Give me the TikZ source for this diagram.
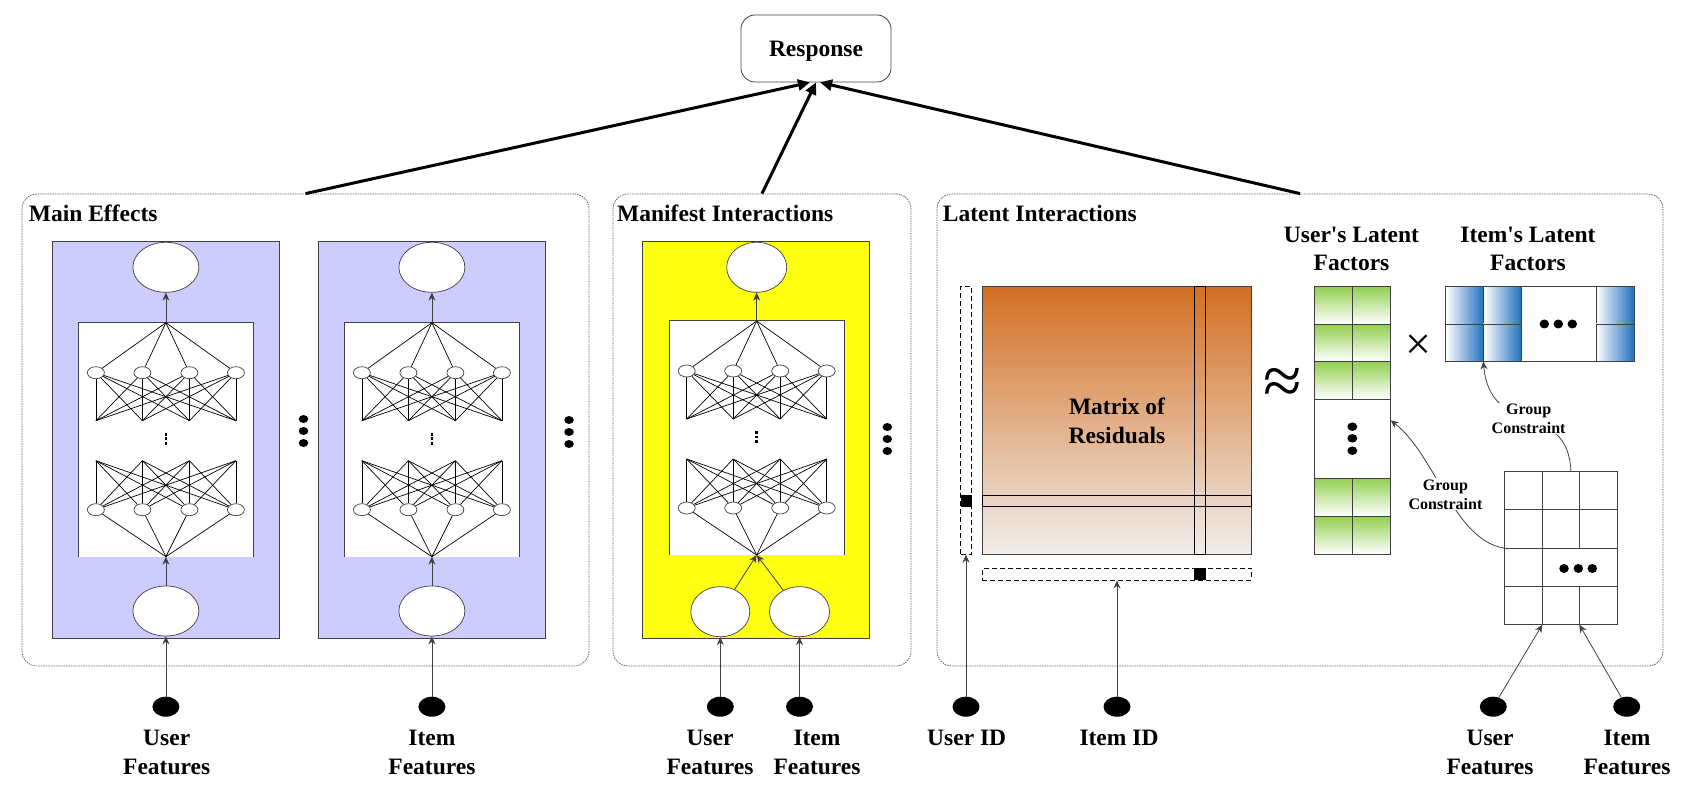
\documentclass[tikz,border=0pt]{standalone}
\usepackage{fontspec}
\setmainfont{Liberation Serif}
\usetikzlibrary{arrows.meta,shapes.geometric,calc}
\definecolor{lav}{HTML}{CCCCFF}
\definecolor{yel}{HTML}{FFFF12}
\definecolor{rust}{HTML}{D36F22}
\definecolor{ash}{HTML}{F0EEEC}
\definecolor{leaf}{HTML}{92D050}
\definecolor{sea}{HTML}{1F6FBE}
\definecolor{edge}{HTML}{404040}

\tikzset{
  neuron/.style={ellipse, draw=edge, fill=white, line width=0.7pt, minimum width=17pt, minimum height=12pt, inner sep=0pt},
  wire/.style={line width=0.7pt},
  mlp/.pic={
    % white box with the stacked layers
    \node[fill=white, minimum width=175pt, minimum height=234pt, inner sep=0pt] (-box) at (0,117) {};
    \draw[draw=edge, line width=0.9pt] (-box.south west) |- (-box.north east) -- (-box.south east);
    \coordinate (-top) at (0,0);
    \coordinate (-bot) at (0,234);
    \foreach \i/\x in {1/-70,2/-23.5,3/23.5,4/70} {
      \node[neuron] (-a\i) at (\x,50) {};
      \node[neuron] (-b\i) at (\x,187) {};
      \coordinate (-p\i) at (\x,98);
      \coordinate (-q\i) at (\x,138);
    }
    \foreach \i in {1,...,4} {
      \draw[wire] (-top) -- (-a\i);
      \draw[wire] (-bot) -- (-b\i);
      \foreach \j in {1,...,4} {
        \draw[wire] (-a\i) -- (-p\j);
        \draw[wire] (-q\j) -- (-b\i);
      }
    }
    % vertical ellipsis between the layers
    \foreach \d in {-4.5,0,4.5}
      \fill (-1.4,116+\d-1.4) rectangle ++(2.8,2.8);
  }
}

\begin{document}
\begin{tikzpicture}[x=1pt, y=-1pt,
    grp/.style={draw=edge!80, dash pattern=on 1.5pt off 1pt, rounded corners=15pt, line width=0.8pt, inner sep=0pt, minimum height=472pt},
    panel/.style={draw=edge, line width=0.9pt, inner sep=0pt, minimum width=227pt, minimum height=396.6pt},
    blob/.style={ellipse, draw=edge, fill=white, line width=0.7pt, inner sep=0pt, minimum height=50pt},
    feat/.style={ellipse, fill=black, minimum width=27pt, minimum height=20pt, inner sep=0pt},
    bigdot/.style={ellipse, fill=black, minimum width=9.5pt, minimum height=8pt, inner sep=0pt},
    ttl/.style={font=\fontsize{23.5}{28.4}\selectfont\bfseries, inner sep=0pt, anchor=west},
    lab/.style={font=\fontsize{23.5}{28.4}\selectfont\bfseries, inner sep=0pt, align=center},
    gc/.style={font=\fontsize{16}{19}\selectfont\bfseries, fill=white, inner sep=1pt, align=center},
    dbar/.style={draw=black, dash pattern=on 5pt off 3pt, line width=0.8pt, inner sep=0pt},
    cell/.style={draw=edge, line width=0.8pt},
    arr/.style={-{Stealth[length=8pt,width=7pt]}, draw=edge, line width=0.8pt},
    bigarr/.style={-{Triangle[length=12pt,width=11pt]}, line width=3pt}]
  \useasboundingbox (0,0) rectangle (1704,799);

  % the three groups and the response
  \node[grp, minimum width=567pt] (main) at (305.5,430) {};
  \node[grp, minimum width=298pt] (mani) at (762,430) {};
  \node[grp, minimum width=726pt] (late) at (1300,430) {};
  \node[ttl] (tmain) at (28.7,213) {Main Effects};
  \node[ttl] (tmani) at (617,213) {Manifest Interactions};
  \node[ttl] (tlate) at (942.7,213) {Latent Interactions};
  \node[draw=edge, rounded corners=14pt, line width=0.8pt, minimum width=150pt, minimum height=67pt, inner sep=0pt,
        text depth=0pt, font=\fontsize{23.5}{28.4}\selectfont\bfseries] (resp) at (816,48.5) {Response};
  \draw[bigarr] (main.north) -- ([xshift=-6pt]resp.south);
  \draw[bigarr] (mani.north) -- (resp.south);
  \draw[bigarr] (late.north) -- ([xshift=4pt]resp.south);

  % networks
  \node[panel, fill=lav] (pan1) at (165.9,440) {};
  \node[panel, fill=lav] (pan2) at (431.9,440) {};
  \node[panel, fill=yel] (pan3) at (755.8,440) {};
  \pic (net1) at (165.9,322.7) {mlp};
  \pic (net2) at (431.9,322.7) {mlp};
  \pic (net3) at (756.7,321) {mlp};
  \node[blob, minimum width=66pt] (out1) at (165.9,267.3) {};
  \node[blob, minimum width=66pt] (in1) at (165.9,611) {};
  \node[blob, minimum width=66pt] (out2) at (431.9,267.3) {};
  \node[blob, minimum width=66pt] (in2) at (431.9,611) {};
  \node[blob, minimum width=60pt] (out3) at (756.7,267.3) {};
  \node[blob, minimum width=59pt] (in3a) at (720.3,611.7) {};
  \node[blob, minimum width=60pt] (in3b) at (799.5,611.7) {};
  \draw[arr] (net1-top) -- (out1);
  \draw[arr] (in1) -- (net1-bot);
  \draw[arr] (net2-top) -- (out2);
  \draw[arr] (in2) -- (net2-bot);
  \draw[arr] (net3-top) -- (out3);
  \draw[arr] (in3a) -- (net3-bot);
  \draw[arr] (in3b) -- (net3-bot);
  \foreach \k/\y in {1/419,2/431,3/443} {
    \node[bigdot] (gapa\k) at (303.5,\y) {};
    \node[bigdot] (gapb\k) at (569,\y+1) {};
    \node[bigdot] (gapc\k) at (887.3,\y+8) {};
  }

  % residual matrix
  \node[dbar, minimum width=11pt, minimum height=267.6pt] (ubar) at (966,420.5) {};
  \node[fill=black, minimum width=11pt, minimum height=11.7pt, inner sep=0pt] (usel) at (966,500.8) {};
  \node[draw=edge, line width=0.8pt, top color=rust, bottom color=ash, minimum width=269.4pt, minimum height=267.6pt,
        inner sep=0pt, align=center, font=\fontsize{23.5}{29}\selectfont\bfseries] (resid) at (1117,420.5) {Matrix of\\Residuals};
  \draw[line width=0.9pt] (982.3,495) rectangle (1251.7,506.3);
  \draw[line width=0.9pt] (1194.3,286.7) rectangle (1205.7,554.3);
  \node[dbar, minimum width=269.4pt, minimum height=11.7pt] (ibar) at (1117,574.2) {};
  \node[fill=black, minimum width=11.4pt, minimum height=11.7pt, inner sep=0pt] (isel) at (1200,574.2) {};
  \node[font=\fontsize{70}{70}\selectfont, inner sep=0pt] (approx) at (1283,386.7) {≈};

  % user factors
  \node[lab] (tuf) at (1351.5,249) {User\textquotesingle s Latent\\Factors};
  \foreach \c in {0,1} {
    \foreach \r in {0,1,2}
      \draw[cell, top color=leaf, bottom color=white] (1314.3+38*\c,286.7+37.53*\r) rectangle ++(38,37.53);
    \foreach \r in {0,1}
      \draw[cell, top color=leaf, bottom color=white] (1314.3+38*\c,478.3+37.85*\r) rectangle ++(38,37.85);
  }
  \node[cell, minimum width=76pt, minimum height=267.3pt, inner sep=0pt] (ufac) at (1352.3,420.35) {};
  \foreach \k/\y in {1/426.7,2/438.3,3/450.7}
    \node[bigdot, minimum width=10pt, minimum height=8.5pt] (ud\k) at (1352.3,\y) {};
  \node[font=\fontsize{46}{46}\selectfont, inner sep=0pt] (times) at (1418.3,346.7) {×};

  % item factors
  \node[lab] (tif) at (1528,249) {Item\textquotesingle s Latent\\Factors};
  \foreach \x in {1445.7,1483.3,1596}
    \foreach \y in {286.7,324}
      \draw[cell, left color=white, right color=sea] (\x,\y) rectangle ++(38.2,37.1);
  \node[cell, minimum width=188.6pt, minimum height=74.3pt, inner sep=0pt] (ifac) at (1540,323.85) {};
  \foreach \k/\x in {1/1544.3,2/1558.3,3/1572.3}
    \node[bigdot, minimum height=9pt] (id\k) at (\x,324) {};

  % group matrix
  \node[cell, minimum width=113.2pt, minimum height=152.6pt, inner sep=0pt] (gmat) at (1560.9,548) {};
  \foreach \y in {509.3,548.3,586.7}
    \draw[cell] (1504.3,\y) -- (1617.5,\y);
  \draw[cell] (1542.3,471.7) -- (1542.3,624.3);
  \draw[cell] (1579.3,471.7) -- (1579.3,548.3) (1579.3,586.7) -- (1579.3,624.3);
  \foreach \k/\x in {1/1564,2/1578.3,3/1592.3}
    \node[bigdot, minimum height=9pt] (gd\k) at (\x,568.5) {};
  \draw[arr] (gmat.west) .. controls +(-50,-8) and +(45,35) .. node[gc] (gc1) {Group\\Constraint} (ufac.east);
  \draw[arr] ([xshift=10pt]gmat.north) .. controls +(-3,-72) and +(7,78) .. node[gc] (gc2) {Group\\Constraint} ([xshift=-56.7pt]ifac.south);

  % inputs
  \node[feat] (uf1) at (165.9,706.7) {};
  \node[feat] (if1) at (431.9,706.7) {};
  \node[feat] (uf2) at (720.3,706.7) {};
  \node[feat] (if2) at (799.5,706.7) {};
  \node[feat] (uid) at (966,706.7) {};
  \node[feat] (iid) at (1117,706.7) {};
  \node[feat] (uf3) at (1493.3,706.7) {};
  \node[feat] (if3) at (1626.7,706.7) {};
  \node[lab] (luf1) at (166.7,752.5) {User\\Features};
  \node[lab] (lif1) at (431.9,752.5) {Item\\Features};
  \node[lab] (luf2) at (710,752.5) {User\\Features};
  \node[lab] (lif2) at (817,752.5) {Item\\Features};
  \node[lab] (luid) at (966.7,738.3) {User ID};
  \node[lab] (liid) at (1119,738.3) {Item ID};
  \node[lab] (luf3) at (1490,752.5) {User\\Features};
  \node[lab] (lif3) at (1627,752.5) {Item\\Features};
  \draw[arr] (uf1) -- (in1);
  \draw[arr] (if1) -- (in2);
  \draw[arr] (uf2) -- (in3a);
  \draw[arr] (if2) -- (in3b);
  \draw[arr] (uid) -- (ubar);
  \draw[arr] (iid) -- (ibar);
  \draw[arr] (uf3) -- ([xshift=-18.6pt]gmat.south);
  \draw[arr] (if3) -- ([xshift=18.4pt]gmat.south);
\end{tikzpicture}
\end{document}
